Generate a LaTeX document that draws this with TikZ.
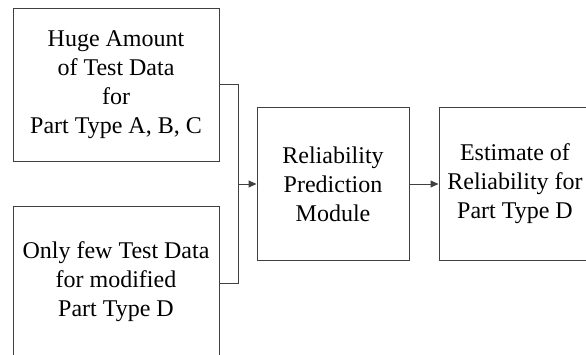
\documentclass[tikz,border=0pt]{standalone}
\usepackage{fontspec}
\setmainfont{Liberation Serif}
\usetikzlibrary{arrows.meta}
\begin{document}
\begin{tikzpicture}[x=1pt,y=1pt,
  blockbox/.style={draw=black!75, line width=1pt, minimum width=206pt, minimum height=152pt,
    align=center, inner sep=0pt, font=\fontsize{24}{29}\selectfont, text=black},
  midbox/.style={blockbox, minimum width=152pt},
  link/.style={draw=black!75, line width=1pt},
  flow/.style={link, -{Triangle[length=8pt,width=7pt]}}]
  \clip (0,0) rectangle (586,354);
  \useasboundingbox (0,0) rectangle (586,354);
  % source blocks (y measured upwards from the bottom edge)
  \node[blockbox] (huge) at (116,269) {Huge Amount\\of Test Data\\for\\Part Type A, B, C};
  \node[blockbox] (few) at (116,72) {Only few Test Data\\for modified\\Part Type D};
  % processing and result blocks
  \node[midbox] (pred) at (333,170) {Reliability\\Prediction\\Module};
  \node[midbox] (est) at (515,170) {Estimate of\\Reliability for\\Part Type D};
  % merging bracket
  \coordinate (join) at (238,170);
  \draw[link] (huge.east |- 0,269) -- (238,269) -- (238,71) -- (few.east |- 0,71);
  \draw[flow] (join) -- (pred.west);
  \draw[flow] (pred.east) -- (est.west);
\end{tikzpicture}
\end{document}
